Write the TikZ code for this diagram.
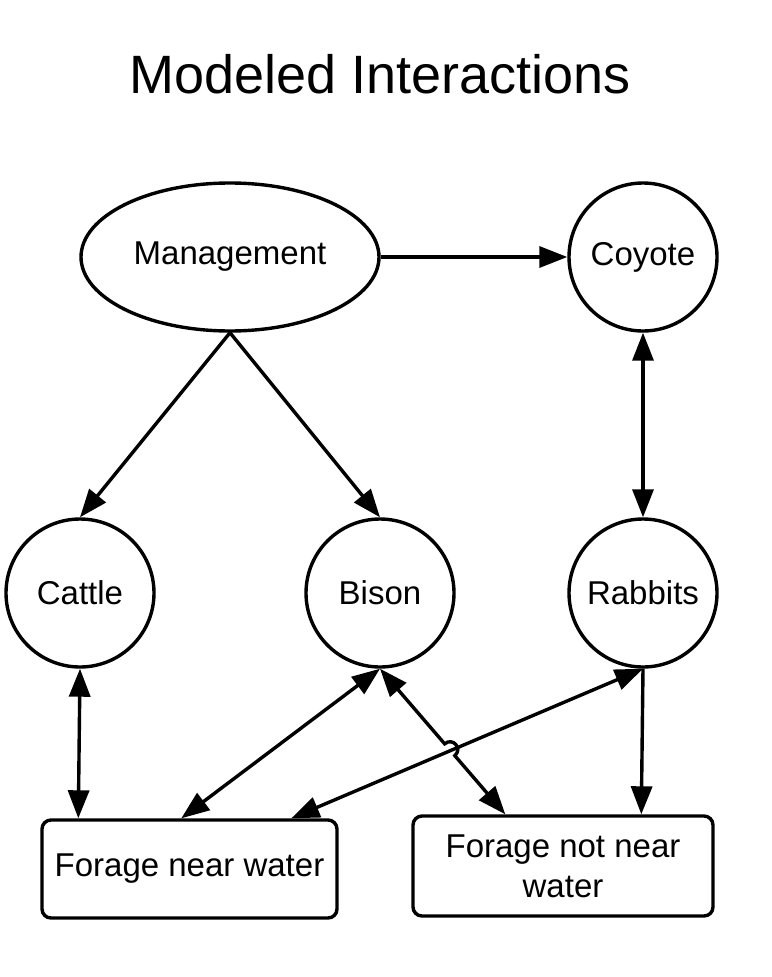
\documentclass[tikz,border=0pt]{standalone}
\usepackage{fontspec}
\setmainfont{Liberation Sans}
\usetikzlibrary{shapes.geometric,arrows.meta,calc}
\begin{document}
\begin{tikzpicture}[x=1pt,y=-1pt,
  every node/.style={font=\fontsize{33}{40}\selectfont, text=black},
  ent/.style={draw=black, line width=3.4pt, circle, minimum size=148pt, inner sep=0pt},
  ell/.style={draw=black, line width=3.4pt, ellipse, minimum width=298pt, minimum height=148pt, inner sep=0pt},
  res/.style={draw=black, line width=3.4pt, rectangle, rounded corners=9pt, inner sep=0pt, align=center},
  conn/.style={line width=3.4pt, -{Triangle[length=28pt,width=21pt]}},
  bconn/.style={line width=3.4pt, {Triangle[length=28pt,width=21pt]}-{Triangle[length=28pt,width=21pt]}},
]
\useasboundingbox (0,0) rectangle (771,977);
\node[anchor=base, font=\fontsize{54}{60}\selectfont] (title) at (380,93) {Modeled Interactions};

\node[ell] (mgmt) at (230,257) {Management};
\node[ent] (coyote) at (643,257) {Coyote};
\node[ent] (cattle) at (80,593) {Cattle};
\node[ent] (bison) at (380,593) {Bison};
\node[ent] (rabbits) at (643,593) {Rabbits};
\node[res, minimum width=295pt, minimum height=98pt] (fnw) at (189.5,869) {Forage near water};
\node[res, minimum width=300pt, minimum height=100pt] (fnnw) at (563,866) {Forage not near\\water};

\coordinate (w1) at ($(fnw.north west)+(38,0)$);
\coordinate (w2) at ($(fnw.north west)+(141,0)$);
\coordinate (w3) at ($(fnw.north west)+(251,0)$);
\coordinate (n1) at ($(fnnw.north west)+(94,0)$);
\coordinate (n2) at ($(fnnw.north west)+(230,0)$);

\draw[conn] (mgmt.east) -- (coyote.west);
\draw[conn] (mgmt.south) -- (cattle.north);
\draw[conn] (mgmt.south) -- (bison.north);
\draw[bconn] (coyote.south) -- (rabbits.north);
\draw[bconn] (cattle.south) -- (w1);
\draw[bconn] (bison.south) -- (w2);
\draw[bconn] (rabbits.south) -- (w3);
\draw[conn] (rabbits.south) -- (n2);

\coordinate (j1) at ($(bison.south)!0.516!(n1)$);
\coordinate (j2) at ($(bison.south)!0.597!(n1)$);
\draw[bconn] (bison.south) -- (j1) .. controls ($(j1)!10.7pt!90:(j2)$) and ($(j2)!10.7pt!-90:(j1)$) .. (j2) -- (n1);
\end{tikzpicture}
\end{document}
